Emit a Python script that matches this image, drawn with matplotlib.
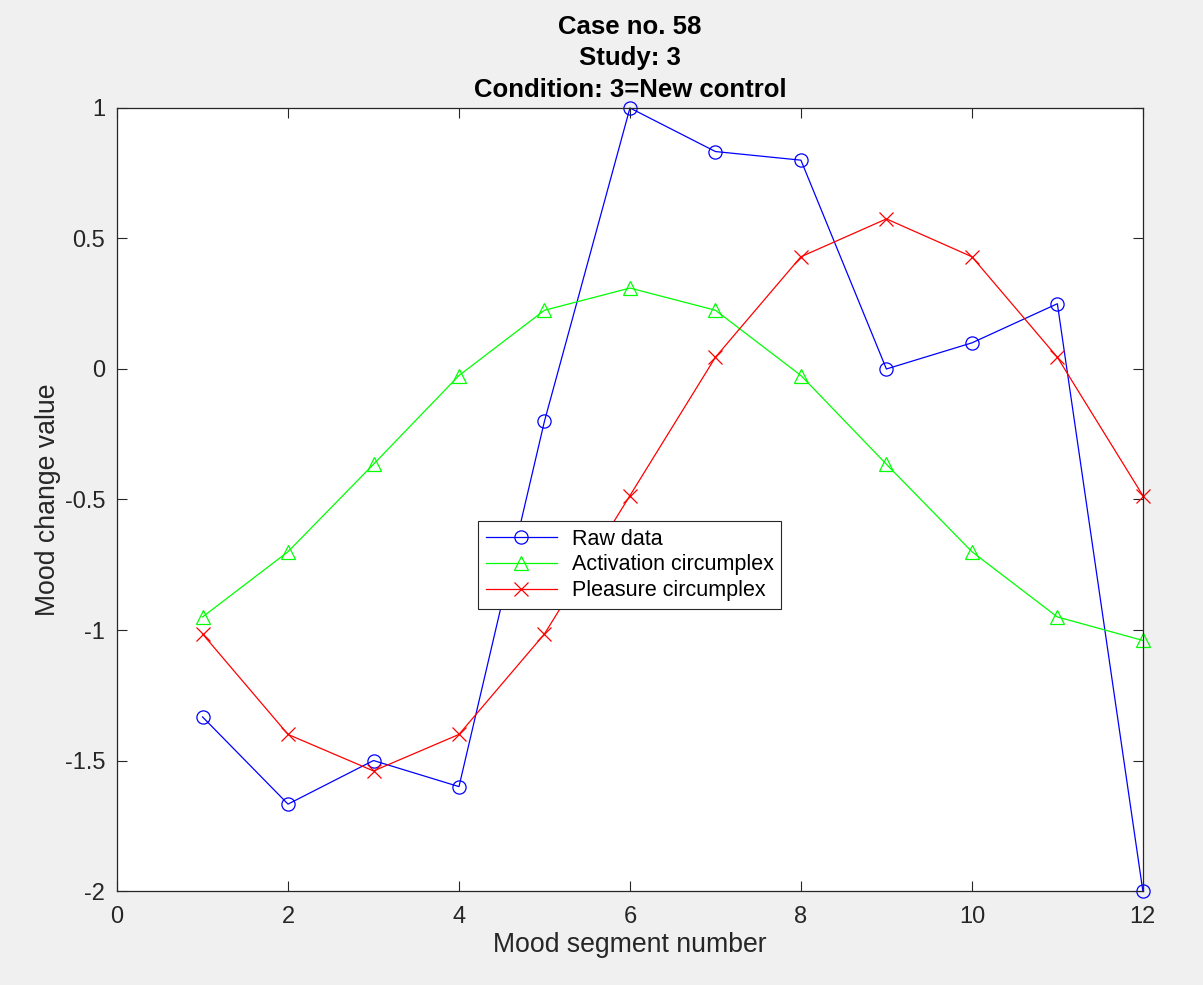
import matplotlib
matplotlib.use("Agg")
import matplotlib.pyplot as plt
import numpy as np

plt.rcParams['font.family'] = ['Liberation Sans', 'DejaVu Sans']

segments = list(range(1, 13))
raw_data = [-1.333, -1.667, -1.5, -1.6, -0.2, 1.0, 0.833, 0.8, 0.0, 0.1, 0.25, -2.0]
activation = [-0.95, -0.70, -0.365, -0.025, 0.225, 0.31, 0.225, -0.025, -0.365, -0.70, -0.95, -1.04]
pleasure = [-1.015, -1.40, -1.54, -1.40, -1.015, -0.485, 0.045, 0.43, 0.575, 0.43, 0.045, -0.485]

title_lines = ["Case no. 58", "Study: 3", "Condition: 3=New control"]
xticks = [0, 2, 4, 6, 8, 10, 12]
yticks = [-2, -1.5, -1, -0.5, 0, 0.5, 1]
yticklabels = ["-2", "-1.5", "-1", "-0.5", "0", "0.5", "1"]

fig = plt.figure(figsize=(12.03, 9.85), dpi=100)
fig.patch.set_facecolor('#f0f0f0')
ax = fig.add_axes([0.0973, 0.0954, 0.8527, 0.795])
ax.set_facecolor('white')

ax.plot(segments, raw_data, color=(0, 0, 1), lw=0.9, marker='o', ms=9.5,
        mfc='none', mec=(0, 0, 1), mew=0.9, label='Raw data', clip_on=False)
ax.plot(segments, activation, color=(0, 1, 0), lw=0.9, marker='^', ms=10.5,
        mfc='none', mec=(0, 1, 0), mew=0.9, label='Activation circumplex', clip_on=False)
ax.plot(segments, pleasure, color=(1, 0, 0), lw=0.9, marker='x', ms=9.5,
        mfc='none', mec=(1, 0, 0), mew=0.9, label='Pleasure circumplex', clip_on=False)

ax.set_xlim(0, 12)
ax.set_ylim(-2, 1)
ax.set_xticks(xticks)
ax.set_yticks(yticks)
ax.set_yticklabels(yticklabels)
ax.tick_params(direction='in', top=True, right=True, length=7, width=0.8,
               labelsize=17, colors='#262626')
ax.tick_params(axis='x', pad=11)
ax.tick_params(axis='y', pad=8.5)
for s in ax.spines.values():
    s.set_linewidth(0.9)
    s.set_color('#262626')

ax.set_xlabel("Mood segment number", fontsize=19.2, color='#262626', labelpad=3)
ax.set_ylabel("Mood change value", fontsize=19.2, color='#262626', labelpad=3)
ax.set_title("\n".join(title_lines), fontsize=18.5, fontweight='bold',
             linespacing=1.4, pad=8)

leg = ax.legend(loc='upper left', bbox_to_anchor=(0.352, 0.4725), borderaxespad=0,
                fontsize=15.5, fancybox=False, edgecolor='#262626', framealpha=1,
                handlelength=3.3, borderpad=0.35, labelspacing=0.22, handletextpad=0.7)
leg.get_frame().set_linewidth(0.8)

fig.savefig("out.png", dpi=100, facecolor=fig.get_facecolor())
